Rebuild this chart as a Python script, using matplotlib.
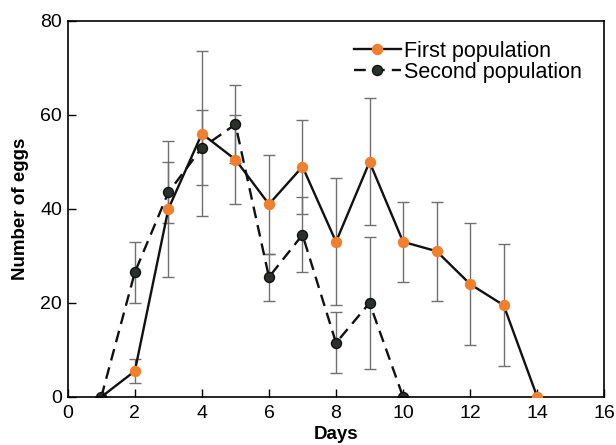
import numpy as np
import matplotlib
matplotlib.use("Agg")
import matplotlib.pyplot as plt

plt.rcParams["font.family"] = ["Liberation Sans", "DejaVu Sans"]

# data
days_first = [1, 2, 3, 4, 5, 6, 7, 8, 9, 10, 11, 12, 13, 14]
eggs_first = [0, 5.5, 40, 56, 50.5, 41, 49, 33, 50, 33, 31, 24, 19.5, 0]
err_first = [0, 2.5, 14.5, 17.5, 9.5, 10.5, 10, 13.5, 13.5, 8.5, 10.5, 13, 13, 0]

days_second = [1, 2, 3, 4, 5, 6, 7, 8, 9, 10]
eggs_second = [0, 26.5, 43.5, 53, 58, 25.5, 34.5, 11.5, 20, 0]
err_second = [0, 6.5, 6.5, 8, 8.3, 5, 8, 6.5, 14, 0]

orange = "#f0802e"
dark = "#2b302c"
ecol = "#707070"

fig = plt.figure(figsize=(6.16, 4.45), dpi=100)
ax = fig.add_axes([0.110, 0.108, 0.871, 0.845])

# error bars
ax.errorbar(days_first, eggs_first, yerr=err_first, fmt="none",
            ecolor=ecol, elinewidth=1.0, capsize=4, capthick=1.0, zorder=1)
ax.errorbar(days_second, eggs_second, yerr=err_second, fmt="none",
            ecolor=ecol, elinewidth=1.0, capsize=4, capthick=1.0, zorder=1)

# day 1 marker of the first series sits under the second one
ax.plot(days_first, eggs_first, "-", color="#111111", lw=1.7,
        marker="o", ms=7.2, mfc=orange, mec=orange, zorder=3,
        markevery=list(range(1, len(days_first))),
        label="First population")
ax.plot(days_second, eggs_second, "--", color="#111111", lw=1.7,
        dashes=(5, 3), marker="o", ms=7.2, mfc=dark, mec="#111111", zorder=2,
        label="Second population")

ax.set_xlim(0, 16)
ax.set_ylim(0, 80)
ax.set_xticks(range(0, 17, 2))
ax.set_yticks(range(0, 81, 20))
ax.tick_params(direction="in", length=6, width=1, labelsize=14)
ax.tick_params(axis="x", pad=6)
ax.tick_params(axis="y", pad=4)
for s in ax.spines.values():
    s.set_linewidth(1.2)

ax.set_xlabel("Days", fontsize=13.5, fontweight="bold", labelpad=3)
ax.set_ylabel("Number of eggs", fontsize=13.5, fontweight="bold", labelpad=8)

ax.legend(loc="upper right", bbox_to_anchor=(0.975, 0.97), frameon=False,
          fontsize=15.5, handlelength=2.2, handletextpad=0.15,
          labelspacing=0.0, borderaxespad=0)

fig.savefig("out.png", dpi=100)
